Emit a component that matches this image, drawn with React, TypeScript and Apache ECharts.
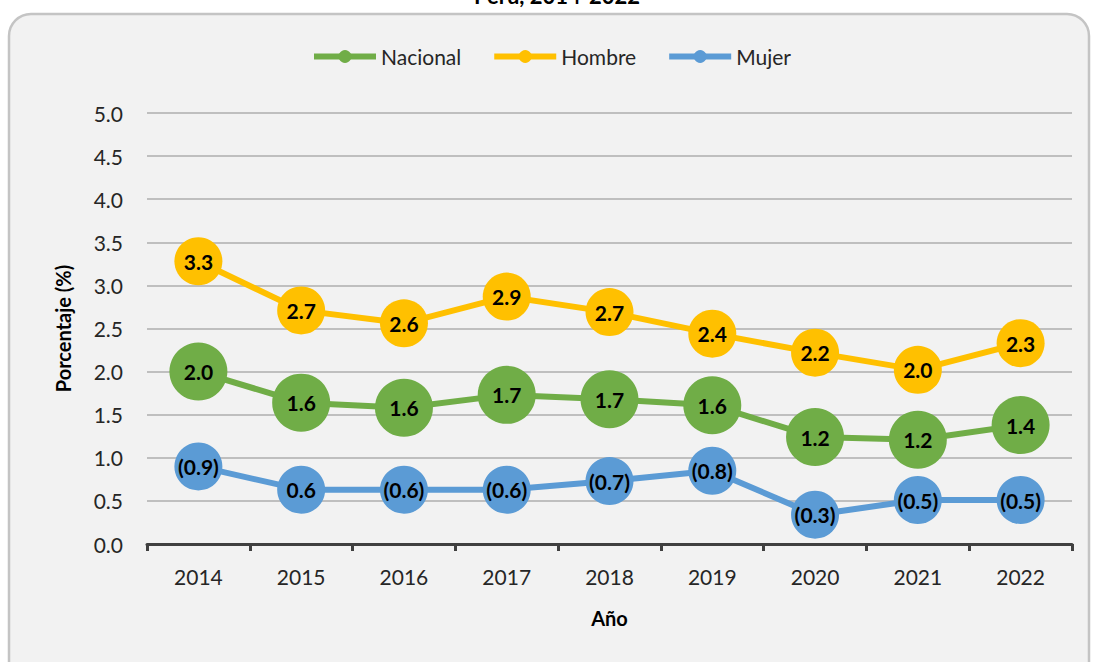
import React, { useEffect, useRef } from "react";
import * as echarts from "echarts";

const years = ["2014", "2015", "2016", "2017", "2018", "2019", "2020", "2021", "2022"];
const nacional = [2.0, 1.64, 1.58, 1.73, 1.68, 1.61, 1.24, 1.21, 1.38];
const nacionalLabels = ["2.0", "1.6", "1.6", "1.7", "1.7", "1.6", "1.2", "1.2", "1.4"];
const hombre = [3.28, 2.71, 2.56, 2.87, 2.69, 2.44, 2.22, 2.02, 2.33];
const hombreLabels = ["3.3", "2.7", "2.6", "2.9", "2.7", "2.4", "2.2", "2.0", "2.3"];
const mujer = [0.9, 0.63, 0.63, 0.63, 0.73, 0.85, 0.34, 0.51, 0.51];
const mujerLabels = ["(0.9)", "0.6", "(0.6)", "(0.6)", "(0.7)", "(0.8)", "(0.3)", "(0.5)", "(0.5)"];

const FONT = "Lato, 'Noto Sans', sans-serif";

function mkSeries(name: string, values: number[], labels: string[], color: string, size: number, z: number) {
  return {
    name,
    type: "line",
    data: values,
    symbol: "circle",
    symbolSize: size,
    z,
    itemStyle: { color },
    lineStyle: { color, width: 6 },
    label: {
      show: true,
      position: "inside",
      color: "#000",
      fontWeight: "bold",
      fontSize: 21,
      fontFamily: FONT,
      formatter: (p: any) => labels[p.dataIndex],
    },
  };
}

export default function App() {
  const ref = useRef<HTMLDivElement>(null);
  useEffect(() => {
    const chart = echarts.init(ref.current!, null, { renderer: "svg" });
    chart.setOption({
      animation: false,
      backgroundColor: "#ffffff",
      graphic: [
        {
          type: "rect",
          z: -10,
          silent: true,
          shape: { x: 9, y: 14, width: 1080, height: 700, r: 22 },
          style: { fill: "#f2f2f2", stroke: "#c4c4c4", lineWidth: 2.5 },
        },
        {
          type: "text",
          x: 557,
          y: 6,
          style: {
            text: "Perú, 2014-2022",
            align: "center",
            verticalAlign: "bottom",
            fontSize: 22,
            fontWeight: "bold",
            fontFamily: FONT,
            fill: "#000",
          },
        },
      ],
      legend: {
        top: 41,
        left: 306,
        itemWidth: 62,
        itemHeight: 16,
        itemGap: 30,
        lineStyle: { width: 6 },
        textStyle: { fontSize: 21, fontFamily: FONT, color: "#262626" },
        data: ["Nacional", "Hombre", "Mujer"],
      },
      grid: { left: 147, right: 22, top: 113, bottom: 118 },
      xAxis: {
        type: "category",
        data: years,
        boundaryGap: true,
        name: "Año",
        nameLocation: "middle",
        nameGap: 64,
        nameTextStyle: { fontSize: 20, fontWeight: "bold", fontFamily: FONT, color: "#000" },
        axisLine: { lineStyle: { color: "#404040", width: 3 } },
        axisTick: { show: true, length: 7, lineStyle: { color: "#404040", width: 3 } },
        axisLabel: { fontSize: 21, fontFamily: FONT, color: "#262626", margin: 22 },
      },
      yAxis: {
        type: "value",
        min: 0,
        max: 5,
        interval: 0.5,
        name: "Porcentaje (%)",
        nameLocation: "middle",
        nameGap: 74,
        nameTextStyle: { fontSize: 20, fontWeight: "bold", fontFamily: FONT, color: "#000" },
        axisLine: { show: false },
        axisTick: { show: false },
        axisLabel: {
          fontSize: 21,
          fontFamily: FONT,
          color: "#262626",
          margin: 24,
          formatter: (v: number) => v.toFixed(1),
        },
        splitLine: { lineStyle: { color: "#bfbfbf", width: 2 } },
      },
      series: [
        mkSeries("Nacional", nacional, nacionalLabels, "#70ad47", 58, 3),
        mkSeries("Hombre", hombre, hombreLabels, "#ffc000", 48, 2),
        mkSeries("Mujer", mujer, mujerLabels, "#5b9bd5", 48, 4),
      ],
    });
    return () => chart.dispose();
  }, []);
  return (
    <div
      ref={ref}
      style={{ position: "fixed", left: 0, top: 0, width: 1094, height: 662 }}
    />
  );
}
